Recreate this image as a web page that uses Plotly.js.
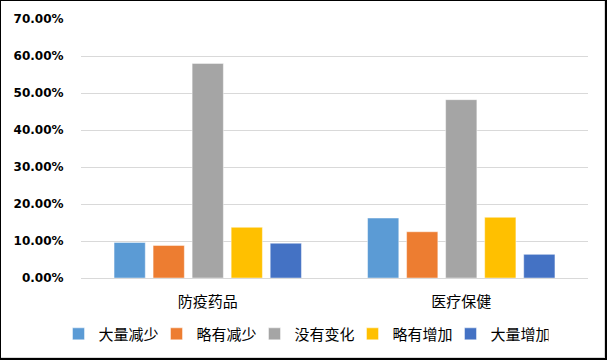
<!DOCTYPE html>
<html>
<head>
<meta charset="utf-8">
<script src="https://cdn.plot.ly/plotly-3.0.1.min.js"></script>
<style>
html,body{margin:0;padding:0;background:#fff;}
#frame{position:absolute;left:0;top:0;width:607px;height:360px;box-sizing:border-box;border:1px solid #000;border-right-width:2px;border-bottom-width:2px;}
#inner{position:absolute;left:0;top:0;right:0;bottom:0;border-right:1px solid #d9d9d9;border-bottom:1px solid #d9d9d9;}
#chart{position:absolute;left:0;top:0;width:607px;height:360px;}
</style>
</head>
<body>
<div id="chart"></div>
<div id="frame"><div id="inner"></div></div>
<script>
const categories = ['防疫药品', '医疗保健'];
const seriesNames = ['大量减少', '略有减少', '没有变化', '略有增加', '大量增加'];
const s1 = [0.096, 0.162];
const s2 = [0.088, 0.125];
const s3 = [0.580, 0.482];
const s4 = [0.137, 0.164];
const s5 = [0.094, 0.064];
const seriesValues = [s1, s2, s3, s4, s5];
const colors = ['#5B9BD5', '#ED7D31', '#A5A5A5', '#FFC000', '#4472C4'];
const yTicks = [0, 0.1, 0.2, 0.3, 0.4, 0.5, 0.6, 0.7];

const cjk = '"Microsoft YaHei", "Noto Sans CJK SC", sans-serif';
const traces = seriesNames.map((n, i) => ({
  type: 'bar',
  name: n,
  x: categories,
  y: seriesValues[i],
  marker: {color: colors[i], line: {color: 'rgba(255,255,255,0.45)', width: 1}},
  hoverinfo: 'none'
}));

const layout = {
  width: 607, height: 360,
  margin: {l: 81, r: 19, t: 19, b: 82},
  paper_bgcolor: '#fff', plot_bgcolor: '#fff',
  bargap: 0.23, bargroupgap: 0.2,
  showlegend: true,
  legend: {
    orientation: 'h', xref: 'container', yref: 'container',
    x: 0.5, xanchor: 'center', y: 0.072, yanchor: 'middle',
    font: {family: cjk, size: 15, color: '#000'},
    entrywidth: 53, entrywidthmode: 'pixels',
    itemwidth: 30,
    itemclick: false
  },
  xaxis: {
    type: 'category',
    ticks: 'outside', ticklen: 10, tickcolor: 'rgba(0,0,0,0)',
    tickfont: {family: cjk, size: 15, color: '#000'},
    showline: false, showgrid: false, zeroline: false
  },
  yaxis: {
    range: [0, 0.7],
    tickvals: yTicks,
    tickformat: '.2%',
    ticks: 'outside', ticklen: 14, tickcolor: 'rgba(0,0,0,0)',
    tickfont: {family: '"DejaVu Sans", sans-serif', size: 12, color: '#000', weight: 'bold'},
    showgrid: true, gridcolor: '#d9d9d9', gridwidth: 1,
    zeroline: true, zerolinecolor: '#d9d9d9', zerolinewidth: 1,
    showline: false
  }
};

Plotly.newPlot('chart', traces, layout, {staticPlot: true, displayModeBar: false});
</script>
</body>
</html>
